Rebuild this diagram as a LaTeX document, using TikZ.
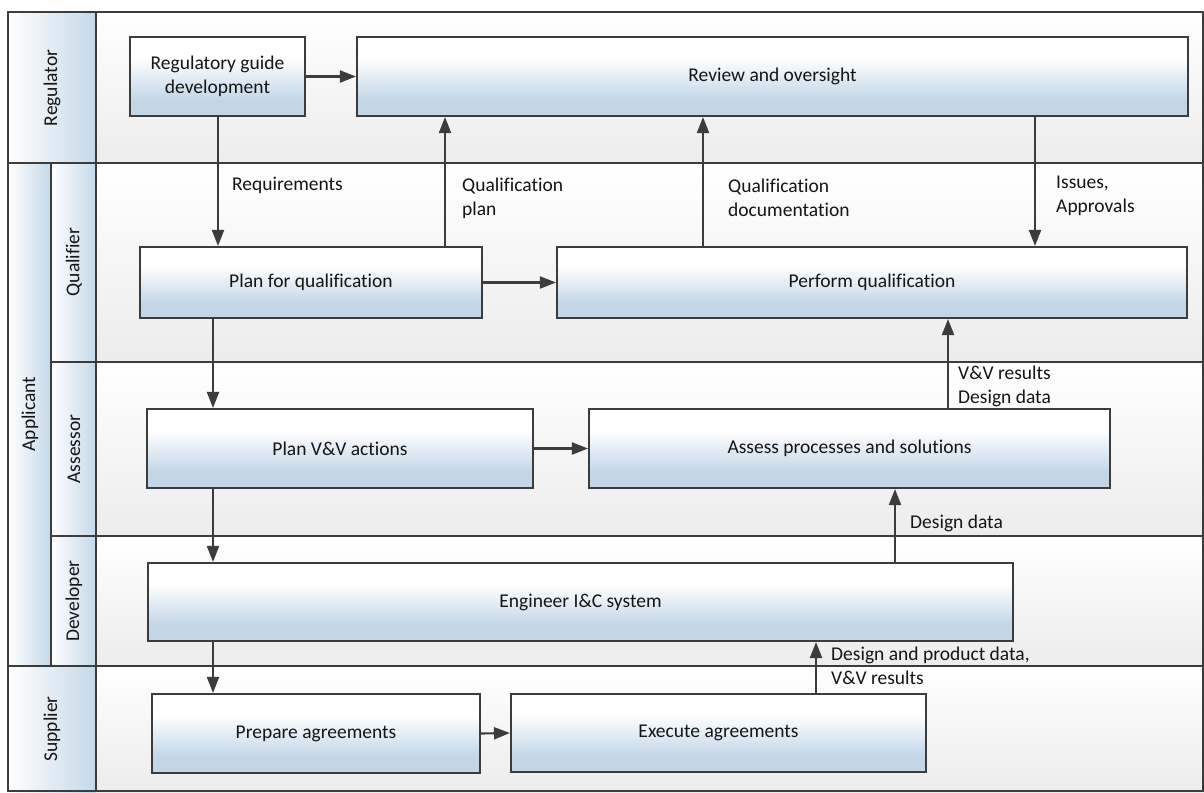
\documentclass[tikz,border=0pt]{standalone}
\usepackage{fontspec}
\setmainfont[Ligatures=NoCommon]{Carlito}
\usetikzlibrary{arrows.meta,calc}
\definecolor{boxblue}{HTML}{C2D6E8}
\definecolor{hdrblue}{HTML}{C4D8E9}
\definecolor{lanegray}{HTML}{ECECEC}
\definecolor{linec}{HTML}{3C3C3C}
\definecolor{txt}{HTML}{151515}
\pgfdeclareverticalshading{boxshade}{100bp}{color(0bp)=(boxblue); color(35bp)=(boxblue); color(62bp)=(white); color(100bp)=(white)}
\tikzset{
  box/.style={draw=linec, line width=2.1pt, shade, shading=boxshade, align=center, inner sep=0pt, text=txt, font=\fontsize{19.5}{24}\selectfont},
  arr/.style={draw=linec, line width=2.1pt, -{Triangle[length=16pt,width=12pt]}},
  lbl/.style={align=left, anchor=west, inner sep=0pt, text=txt, font=\fontsize{19.5}{24}\selectfont},
  lanelbl/.style={rotate=90, inner sep=0pt, text=txt, font=\fontsize{19.5}{24}\selectfont},
  laneline/.style={draw=linec, line width=2.1pt},
  lanebg/.style={top color=white, bottom color=lanegray, draw=none},
  hdrbg/.style={left color=white, right color=hdrblue, draw=none}
}
\begin{document}
\begin{tikzpicture}[x=1pt,y=-1pt]
\useasboundingbox (0,0) rectangle (1204,792);
% lane backgrounds
\shade[lanebg] (96,12) rectangle (1204,163);
\shade[lanebg] (96,163) rectangle (1204,362);
\shade[lanebg] (96,362) rectangle (1204,536);
\shade[lanebg] (96,536) rectangle (1204,666);
\shade[lanebg] (96,666) rectangle (1204,792);
% headers
\shade[hdrbg] (8,12) rectangle (96,163);
\shade[hdrbg] (8,163) rectangle (51,666);
\shade[hdrbg] (51,163) rectangle (96,362);
\shade[hdrbg] (51,362) rectangle (96,536);
\shade[hdrbg] (51,536) rectangle (96,666);
\shade[hdrbg] (8,666) rectangle (96,792);
% lane lines
\draw[laneline] (8,12) rectangle (1203,791);
\draw[laneline] (8,163) -- (1204,163);
\draw[laneline] (8,666) -- (1204,666);
\draw[laneline] (51,362) -- (1204,362);
\draw[laneline] (51,536) -- (1204,536);
\draw[laneline] (96,12) -- (96,792);
\draw[laneline] (51,163) -- (51,666);
% lane labels
\node[lanelbl] (lreg) at (52,88) {Regulator};
\node[lanelbl] (lapp) at (30,414) {Applicant};
\node[lanelbl] (lqua) at (74,262) {Qualifier};
\node[lanelbl] (lass) at (74,449) {Assessor};
\node[lanelbl] (ldev) at (74,601) {Developer};
\node[lanelbl] (lsup) at (52,729) {Supplier};
% boxes
\node[box, minimum width=175pt, minimum height=79pt] (rgd) at (217.5,76.5) {Regulatory guide\\development};
\node[box, minimum width=831pt, minimum height=79pt] (rev) at (772.5,76.5) {Review and oversight};
\node[box, minimum width=342pt, minimum height=71pt] (pfq) at (311,282.5) {Plan for qualification};
\node[box, minimum width=630pt, minimum height=71pt] (pq) at (872,282.5) {Perform qualification};
\node[box, minimum width=386pt, minimum height=79pt] (pvv) at (340,448.5) {Plan V\&V actions};
\node[box, minimum width=521pt, minimum height=79pt] (aps) at (849.5,448.5) {Assess processes and solutions};
\node[box, minimum width=865pt, minimum height=78pt] (eng) at (580.5,602) {Engineer I\&C system};
\node[box, minimum width=328pt, minimum height=79pt] (pa) at (316,733.5) {Prepare agreements};
\node[box, minimum width=415pt, minimum height=78pt] (ea) at (718.5,733) {Execute agreements};
% helper coordinates
\coordinate (xa) at (218,0);
\coordinate (xb) at (445,0);
\coordinate (xc) at (703,0);
\coordinate (xd) at (1035,0);
\coordinate (xe) at (213,0);
\coordinate (xf) at (948,0);
\coordinate (xg) at (895,0);
\coordinate (xh) at (816,0);
% arrows
\draw[arr] (rgd.east) -- (rev.west |- rgd.east);
\draw[arr] (rgd.south -| xa) -- (pfq.north -| xa);
\draw[arr] (pfq.north -| xb) -- (rev.south -| xb);
\draw[arr] (pq.north -| xc) -- (rev.south -| xc);
\draw[arr] (rev.south -| xd) -- (pq.north -| xd);
\draw[arr] (pfq.east) -- (pq.west);
\draw[arr] (pfq.south -| xe) -- (pvv.north -| xe);
\draw[arr] (aps.north -| xf) -- (pq.south -| xf);
\draw[arr] (pvv.east) -- (aps.west);
\draw[arr] (pvv.south -| xe) -- (eng.north -| xe);
\draw[arr] (eng.north -| xg) -- (aps.south -| xg);
\draw[arr] (eng.south -| xe) -- (pa.north -| xe);
\draw[arr] (ea.north -| xh) -- (eng.south -| xh);
\draw[arr] (pa.east) -- (ea.west);
% connector labels
\node[lbl] (t1) at (232,185) {Requirements};
\node[lbl] (t2) at (462,198) {Qualification\\plan};
\node[lbl] (t3) at (728,198) {Qualification\\documentation};
\node[lbl] (t4) at (1056,196) {Issues,\\Approvals};
\node[lbl] (t5) at (958,386) {V\&V results\\Design data};
\node[lbl] (t6) at (910,523) {Design data};
\node[lbl] (t7) at (831,666) {Design and product data,\\V\&V results};
\end{tikzpicture}
\end{document}
